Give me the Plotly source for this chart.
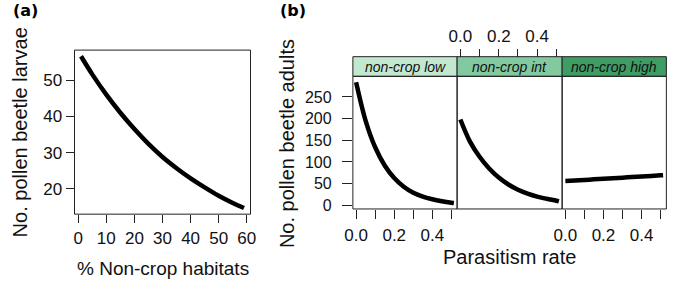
import plotly.graph_objects as go

W, H = 675, 284

# ---- Data ----
habitat_pct = [1, 5, 10, 15, 20, 25, 30, 35, 40, 45, 50, 55, 59]
larvae = [56.6, 51.6, 46.0, 41.0, 36.5, 32.4, 28.8, 25.7, 22.9, 20.4, 18.1, 16.1, 14.7]

parasitism = [0.0, 0.05, 0.1, 0.15, 0.2, 0.25, 0.3, 0.35, 0.4, 0.45, 0.5, 0.513]
adults_low = [284, 195, 134, 92, 63, 43, 29, 20, 14, 9.5, 6.0, 5.3]
adults_int = [198, 147, 112, 85, 64, 48, 36, 27, 20, 15, 10.5, 9]
adults_high = [56.0, 57.3, 58.6, 59.9, 61.2, 62.5, 63.8, 65.2, 66.5, 67.9, 69.2, 69.6]

panel_names = ["non-crop low", "non-crop int", "non-crop high"]
strip_colors = ["rgb(194,232,208)", "rgb(130,201,160)", "rgb(62,156,100)"]

a_xticks = [0, 10, 20, 30, 40, 50, 60]
a_yticks = [20, 30, 40, 50]
b_xticks = [0.0, 0.1, 0.2, 0.3, 0.4, 0.5]
b_xticklabels = ["0.0", "", "0.2", "", "0.4", ""]
b_yticks = [0, 50, 100, 150, 200, 250]


def px(x):
    return x / W


def py(y):
    return 1 - y / H


FONT = "Liberation Sans, Arial, sans-serif"
XTICKF = dict(family=FONT, size=17, color="#111")
YTICKF = dict(family=FONT, size=16, color="#111")
LINE = dict(color="black", width=4.5)

fig = go.Figure()
fig.add_trace(go.Scatter(x=habitat_pct, y=larvae, mode="lines", line=dict(LINE, shape="spline"),
                         xaxis="x", yaxis="y", showlegend=False))
for i, ys in enumerate([adults_low, adults_int, adults_high]):
    fig.add_trace(go.Scatter(x=parasitism, y=ys, mode="lines", line=dict(LINE, shape="spline"),
                             xaxis="x%d" % (i + 2), yaxis="y2", showlegend=False))

# panel geometry (pixels)
a_l, a_r, a_t, a_b = 67, 247, 51, 218
b_edges = [351.7, 458.3, 565.7, 672.3]
b_st, b_t, b_b = 57.7, 77.7, 212.7

common = dict(showgrid=False, zeroline=False, ticks="outside", ticklen=8, tickcolor="#222",
              showline=False)

layout = dict(
    width=W, height=H, margin=dict(l=0, r=0, t=0, b=0),
    plot_bgcolor="white", paper_bgcolor="white", showlegend=False,
    xaxis=dict(common, domain=[px(a_l), px(a_r)], range=[-1.32, 61.32], anchor="y",
               tickvals=a_xticks, tickfont=XTICKF),
    yaxis=dict(common, domain=[py(a_b), py(a_t)], range=[13.0, 58.3], anchor="x",
               tickvals=a_yticks, tickfont=XTICKF),
    yaxis2=dict(common, domain=[py(b_b), py(b_t)], range=[-8.4, 297.6], anchor="x2",
                tickvals=b_yticks, tickfont=YTICKF, ticklen=10, ticklabelstandoff=7),
    xaxis2=dict(common, domain=[px(b_edges[0]), px(b_edges[1])], range=[-0.017, 0.53],
                anchor="y2", tickvals=b_xticks, ticktext=b_xticklabels, tickfont=XTICKF,
                ticklen=9, ticklabelstandoff=2),
    xaxis3=dict(common, domain=[px(b_edges[1]), px(b_edges[2])], range=[-0.017, 0.53],
                anchor="free", position=py(b_st), side="top",
                tickvals=b_xticks, ticktext=b_xticklabels, tickfont=XTICKF),
    xaxis4=dict(common, domain=[px(b_edges[2]), px(b_edges[3])], range=[-0.017, 0.53],
                anchor="y2", tickvals=b_xticks, ticktext=b_xticklabels, tickfont=XTICKF,
                ticklen=9, ticklabelstandoff=2),
)

shapes = []
shapes.append(dict(type="rect", xref="paper", yref="paper", x0=px(a_l), x1=px(a_r),
                   y0=py(a_b), y1=py(a_t), line=dict(color="#222", width=1)))
for i in range(3):
    x0, x1 = px(b_edges[i]), px(b_edges[i + 1])
    shapes.append(dict(type="rect", xref="paper", yref="paper", x0=x0, x1=x1,
                       y0=py(b_t), y1=py(b_st), fillcolor=strip_colors[i],
                       line=dict(color="#222", width=1), layer="below"))
    shapes.append(dict(type="rect", xref="paper", yref="paper", x0=x0, x1=x1,
                       y0=py(b_b), y1=py(b_t), line=dict(color="#222", width=1)))

annotations = []
for i in range(3):
    annotations.append(dict(xref="paper", yref="paper",
                            x=(px(b_edges[i]) + px(b_edges[i + 1])) / 2,
                            y=(py(b_st) + py(b_t)) / 2, text="<i>%s</i>" % panel_names[i],
                            showarrow=False, font=dict(family=FONT, size=14, color="#111"),
                            xanchor="center", yanchor="middle"))

TITLEF = dict(family=FONT, size=20, color="#111")
annotations += [
    dict(xref="paper", yref="paper", x=px(157), y=py(273), text="% Non-crop habitats",
         showarrow=False, font=dict(TITLEF, size=19), xanchor="center", yanchor="middle"),
    dict(xref="paper", yref="paper", x=px(11), y=py(135), text="No. pollen beetle larvae",
         showarrow=False, font=TITLEF, textangle=-90, xanchor="center", yanchor="middle"),
    dict(xref="paper", yref="paper", x=px(512), y=py(262), text="Parasitism rate",
         showarrow=False, font=TITLEF, xanchor="center", yanchor="middle"),
    dict(xref="paper", yref="paper", x=px(285), y=py(146), text="No. pollen beetle adults",
         showarrow=False, font=TITLEF, textangle=-90, xanchor="center", yanchor="middle"),
    dict(xref="paper", yref="paper", x=px(2), y=py(11), text="<b>(a)</b>",
         showarrow=False, font=dict(family="DejaVu Sans", size=16, color="black"),
         xanchor="left", yanchor="middle"),
    dict(xref="paper", yref="paper", x=px(275), y=py(11), text="<b>(b)</b>",
         showarrow=False, font=dict(family="DejaVu Sans", size=16, color="black"),
         xanchor="left", yanchor="middle"),
]

layout["shapes"] = shapes
layout["annotations"] = annotations
fig.update_layout(**layout)
fig.write_html("out.html", config={"displayModeBar": False},
               post_script="document.body.style.margin='0';document.body.style.overflow='hidden';")
